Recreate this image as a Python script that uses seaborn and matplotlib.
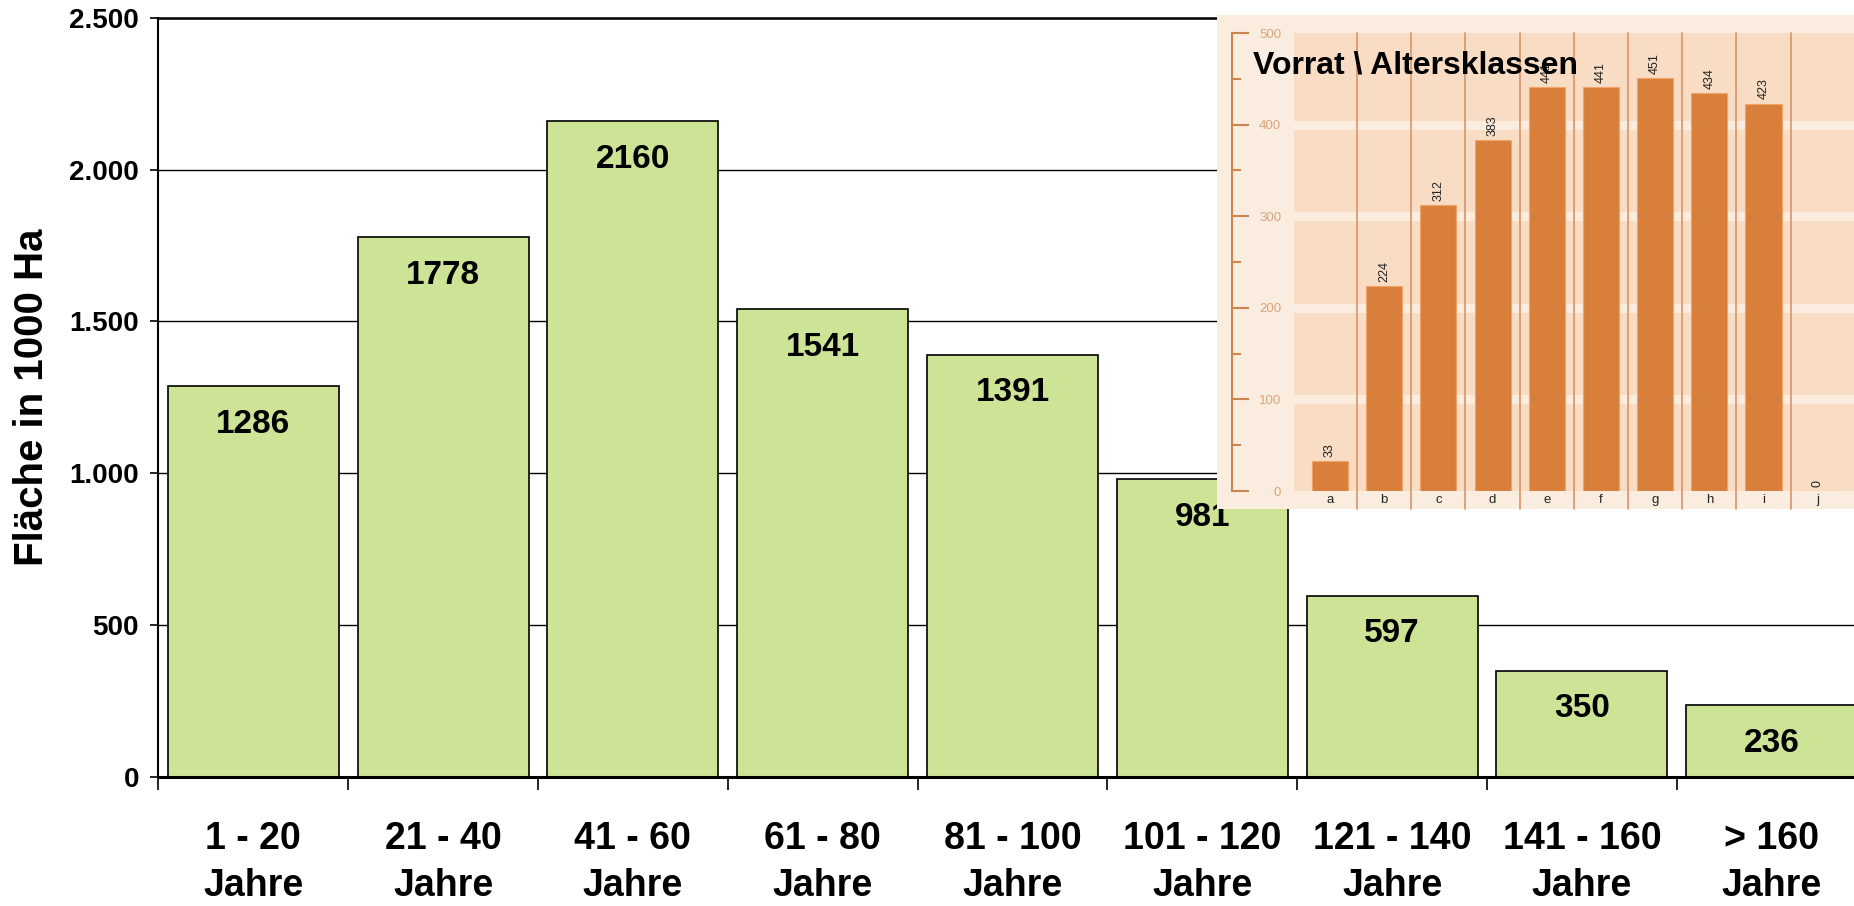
import matplotlib
matplotlib.use("Agg")
import matplotlib.pyplot as plt
import matplotlib.patches as mpatches
from matplotlib.ticker import FuncFormatter
import seaborn as sns
import numpy as np
import pandas as pd

# main chart data (Fläche in 1000 Ha)
age_classes = ["1 - 20\nJahre", "21 - 40\nJahre", "41 - 60\nJahre", "61 - 80\nJahre",
               "81 - 100\nJahre", "101 - 120\nJahre", "121 - 140\nJahre",
               "141 - 160\nJahre", "> 160\nJahre"]
area = [1286, 1778, 2160, 1541, 1391, 981, 597, 350, 236]
y_ticks = [0, 500, 1000, 1500, 2000, 2500]

# inset data (Vorrat \ Altersklassen)
inset_cats = ["a", "b", "c", "d", "e", "f", "g", "h", "i", "j"]
inset_vals = [33, 224, 312, 383, 441, 441, 451, 434, 423, 0]
inset_ticks = [0, 100, 200, 300, 400, 500]
inset_title = "Vorrat \\ Altersklassen"

sns.set_theme(style="white")
plt.rcParams["font.family"] = ["Liberation Sans", "DejaVu Sans"]
plt.rcParams["text.color"] = "black"
plt.rcParams["axes.labelcolor"] = "black"
plt.rcParams["xtick.color"] = "black"
plt.rcParams["ytick.color"] = "black"

W, H = 1854, 906
fig = plt.figure(figsize=(W / 100, H / 100), dpi=100)

def fr(x0, y_top, x1, y_bot):
    # pixel box -> figure fraction
    return [x0 / W, 1 - y_bot / H, (x1 - x0) / W, (y_bot - y_top) / H]

# ---------------- main chart ----------------
ax = fig.add_axes(fr(158.4, 17.7, 1866.6, 777))
df = pd.DataFrame({"cls": age_classes, "area": area})
sns.barplot(data=df, x="cls", y="area", color="#cde496", edgecolor="black",
            linewidth=1.2, width=0.9, saturation=1, ax=ax, zorder=2)
ax.set_xlim(-0.5, len(area) - 0.5)
ax.set_ylim(0, 2500)
ax.set_yticks(y_ticks)
ax.yaxis.set_major_formatter(FuncFormatter(lambda v, p: f"{int(v):,}".replace(",", ".")))
ax.yaxis.grid(True, color="black", linewidth=1.0)
ax.set_axisbelow(True)

ax.set_xticks(np.arange(-0.5, len(area)), labels=[""] * (len(area) + 1))
ax.set_xticks(np.arange(len(area)), labels=age_classes, minor=True)
ax.tick_params(axis="x", which="major", direction="out", length=9.5, width=1.2, color="black")
ax.tick_params(axis="x", which="minor", length=0, pad=32, labelsize=27, labelcolor="black")
for t in ax.get_xticklabels(minor=True):
    t.set_fontweight("bold")
    t.set_linespacing(1.38)
ax.tick_params(axis="y", direction="out", length=6, width=1.2, color="black",
               labelsize=20, pad=8, labelcolor="black")
for t in ax.get_yticklabels():
    t.set_fontweight("bold")
ax.tick_params(left=True, bottom=True)

ax.set_xlabel("")
ax.set_ylabel("Fläche in 1000 Ha", fontsize=29, fontweight="bold", color="black")
ax.yaxis.set_label_coords(-0.063, 0.5)

for s in ["top", "left", "bottom", "right"]:
    ax.spines[s].set_visible(True)
    ax.spines[s].set_color("black")
ax.spines["top"].set_linewidth(1.8)
ax.spines["left"].set_linewidth(1.5)
ax.spines["bottom"].set_linewidth(2.2)

for i, v in enumerate(area):
    ax.annotate(str(v), (i, v), xytext=(0, -27.5), textcoords="offset points",
                ha="center", va="center", fontsize=24, fontweight="bold",
                color="black", zorder=4)

# ---------------- inset ----------------
bg = "#faecde"
panel = "#f8dcc4"
brown = "#c9844f"
fig.patches.append(mpatches.Rectangle((1217 / W, 1 - 509 / H), (W - 1217) / W, (509 - 15) / H,
                                      transform=fig.transFigure, facecolor=bg,
                                      edgecolor="none", zorder=1))

ax2 = fig.add_axes(fr(1294, 33, 1854, 491), zorder=2)
ax2.set_facecolor(panel)
idf = pd.DataFrame({"cat": inset_cats, "val": inset_vals})
sns.barplot(data=idf, x="cat", y="val", color="#d97f3c", edgecolor="#f0a468",
            linewidth=0.8, width=0.665, saturation=1, ax=ax2, zorder=3)
ax2.set_xlim(-0.664, 9.67)
ax2.set_ylim(0, 500)
for g in inset_ticks[1:-1]:
    ax2.axhline(g, color=bg, linewidth=6.5, zorder=1)
for b in np.arange(0.5, len(inset_vals) - 1, 1):
    ax2.axvline(b, ymin=-18 / 458, ymax=1, color="#d9956a", linewidth=1.2,
                clip_on=False, zorder=2)

for s in ["top", "right", "bottom"]:
    ax2.spines[s].set_visible(False)
ax2.spines["left"].set_visible(True)
ax2.spines["left"].set_position(("outward", 44.6))
ax2.spines["left"].set_color(brown)
ax2.spines["left"].set_linewidth(1.5)
ax2.set_yticks(inset_ticks)
ax2.set_yticks(np.arange(50, 500, 100), minor=True)
ax2.tick_params(axis="y", which="major", direction="in", length=12.2, width=1.5,
                color=brown, labelcolor="#dba47c", labelsize=9.5, pad=-35.3, left=True)
ax2.tick_params(axis="y", which="minor", direction="in", length=6.5, width=1.5,
                color=brown, left=True)
ax2.tick_params(axis="x", length=0, labelsize=9.5, pad=2, labelcolor="#222222")
ax2.set_xlabel("")
ax2.set_ylabel("")
ax2.grid(False)

ax2.bar_label(ax2.containers[0], rotation=90, padding=3, fontsize=9, color="#222222")

fig.text(1253 / W, 1 - 73 / H, inset_title, fontsize=23, fontweight="bold",
         ha="left", va="baseline", color="black", zorder=5)

fig.savefig("out.png", dpi=100)
